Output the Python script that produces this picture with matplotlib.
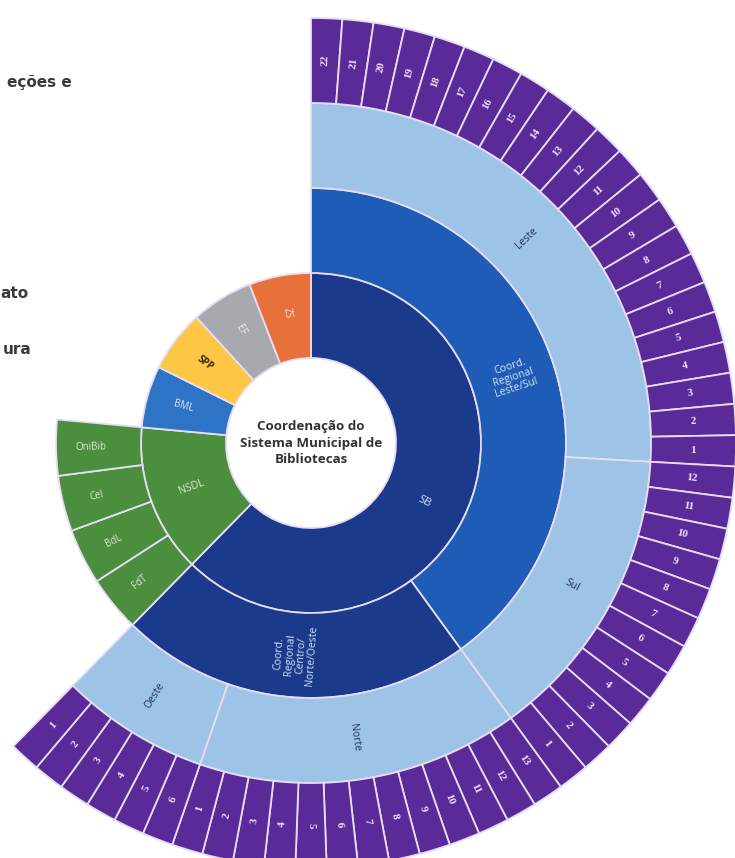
import numpy as np
import matplotlib.pyplot as plt

# ---------------- data ----------------
center_title = "Coordenação do\nSistema Municipal de\nBibliotecas"
sb_label = "SB"
coord_labels = ["Coord.\nRegional\nLeste/Sul", "Coord.\nRegional\nCentro/\nNorte/Oeste"]
coord_region_counts = [2, 2]            # regions under each coordination
regions = ["Leste", "Sul", "Norte", "Oeste"]
region_units = [22, 12, 13, 6]           # number of libraries (leaves) in each region
nsdl_label = "NSDL"
nsdl_children = ["FdT", "BdL", "Cel", "OniBib"]
nsdl_values = [3, 3, 3, 3]
other_units = ["BML", "SPP", "EF", "ZS"]
other_values = [5, 5, 5, 5]
side_text = ["eções e", "ato", "ura"]

# ---------------- style ----------------
W, H = 735, 858
cx, cy, R = 311, 443, 425
radii = [85, 170, 255, 340, 425]
navy = "#1b3a8c"
mid_blue = "#1f5cb8"
light_blue = "#9dc3e6"
purple = "#5a2a98"
green = "#4b8e3e"
other_colors = ["#2e74c6", "#fdc644", "#a7a9ae", "#e8703a"]
other_text_colors = ["#dfe9f7", "#3a2a10", "#eef0f2", "#fbe3d3"]
edge = "#e6ddf5"

fig = plt.figure(figsize=(W / 100, H / 100), dpi=100)
fig.patch.set_facecolor("white")
ax = fig.add_axes([(cx - R) / W, (H - cy - R) / H, 2 * R / W, 2 * R / H], projection="polar")
ax.set_theta_zero_location("N")
ax.set_theta_direction(-1)
ax.set_ylim(0, R)
ax.set_axis_off()

total = sum(region_units) + sum(nsdl_values) + sum(other_values)
unit = 2 * np.pi / total


def ring_bar(starts, widths, ring, colors):
    ax.bar(starts, radii[ring + 1] - radii[ring], width=widths, bottom=radii[ring],
           align="edge", color=colors, edgecolor=edge, linewidth=1.3, clip_on=False)


def label(theta, rr, s, color, size, family="Open Sans", weight="normal", ls=1.1):
    rot = 90 - np.degrees(theta)
    rot = (rot + 180) % 360 - 180
    if rot < -90:
        rot += 180
    elif rot > 90:
        rot -= 180
    ax.text(theta, rr, s, rotation=rot, rotation_mode="anchor", ha="center", va="center",
            color=color, fontsize=size, family=family, weight=weight, linespacing=ls)


def mid(r0, r1):
    return (radii[r0] + radii[r1]) / 2

# ---- ring 1 ----
sb_units = sum(region_units)
nsdl_units = sum(nsdl_values)
r1_vals = [sb_units, nsdl_units] + other_values
r1_w = np.array(r1_vals) * unit
r1_s = np.concatenate([[0], np.cumsum(r1_w)[:-1]])
ring_bar(r1_s, r1_w, 0, [navy, green] + other_colors)
label(r1_s[0] + r1_w[0] / 2 + 0.09, mid(0, 1), sb_label, "#d6e2f5", 8)
label(r1_s[1] + r1_w[1] / 2, mid(0, 1), nsdl_label, "#d9ecd3", 7.5)
for i, name in enumerate(other_units):
    label(r1_s[2 + i] + r1_w[2 + i] / 2, mid(0, 1) + 5, name, other_text_colors[i], 7,
          weight="bold" if name == "SPP" else "normal")

# ---- ring 2 ----
coord_units = []
k = 0
for n in coord_region_counts:
    coord_units.append(sum(region_units[k:k + n]))
    k += n
r2_vals = coord_units + nsdl_values
r2_w = np.array(r2_vals) * unit
r2_s = np.concatenate([[0], np.cumsum(r2_w)[:-1]])
ring_bar(r2_s, r2_w, 1, [mid_blue, navy] + [green] * len(nsdl_values))
label(r2_s[0] + r2_w[0] / 2, mid(1, 2), coord_labels[0], "#d6e2f5", 7.5, ls=1.0)
label(r2_s[1] + r2_w[1] / 2, mid(1, 2), coord_labels[1], "#d6e2f5", 7.5, ls=1.0)
for i, name in enumerate(nsdl_children):
    label(r2_s[2 + i] + r2_w[2 + i] / 2, mid(1, 2) + 8, name, "#d9ecd3", 7)

# ---- ring 3 ----
r3_w = np.array(region_units) * unit
r3_s = np.concatenate([[0], np.cumsum(r3_w)[:-1]])
ring_bar(r3_s, r3_w, 2, [light_blue] * len(regions))
for i, name in enumerate(regions):
    label(r3_s[i] + r3_w[i] / 2, mid(2, 3), name, "#22345e", 7.5)

# ---- ring 4 (libraries) ----
leaf_names = []
for n in region_units:
    leaf_names += [str(v) for v in range(n, 0, -1)]
leaf_w = np.full(len(leaf_names), unit)
leaf_s = np.arange(len(leaf_names)) * unit
ring_bar(leaf_s, leaf_w, 3, [purple] * len(leaf_names))
for s0, name in zip(leaf_s, leaf_names):
    label(s0 + unit / 2, mid(3, 4), name, "#efe4ff", 8, family="Liberation Serif", weight="bold")

# ---- centre ----
ax.text(0, 0, center_title, ha="center", va="center", fontsize=9.6, weight="bold",
        family="Open Sans", color="#333333", linespacing=1.35)

# ---- cropped side text ----
for s, (x, y) in zip(side_text, [(72, 82), (28, 294), (32, 349)]):
    fig.text(x / W, 1 - y / H, s, ha="right", va="center", fontsize=11, weight="bold",
             family="DejaVu Sans", color="#3a3a3a")

fig.savefig("out.png", dpi=100, facecolor="white")
